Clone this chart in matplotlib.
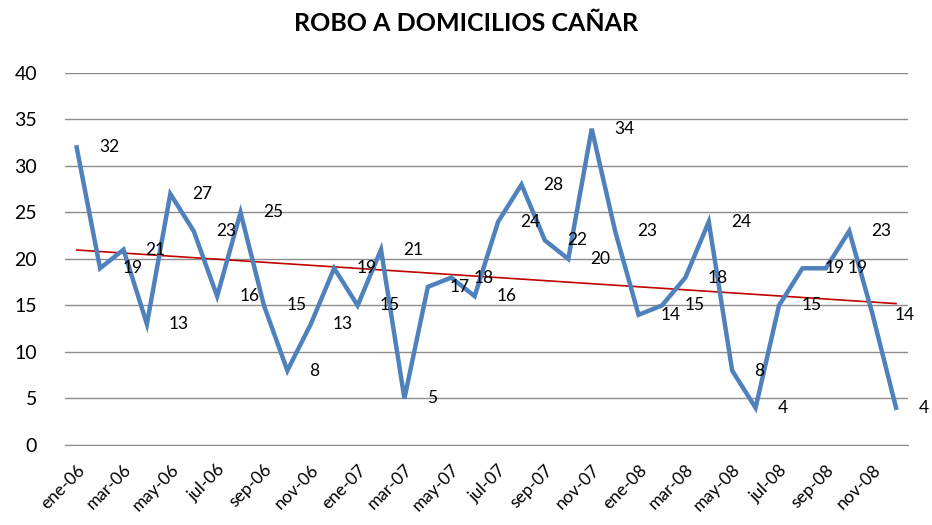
import matplotlib.pyplot as plt
import numpy as np

plt.rcParams['font.family'] = ['Lato', 'DejaVu Sans']

meses = ["ene", "feb", "mar", "abr", "may", "jun",
         "jul", "ago", "sep", "oct", "nov", "dic"]
anios = ["06", "07", "08"]
labels = [m + "-" + a for a in anios for m in meses]

robos = [32, 19, 21, 13, 27, 23, 16, 25, 15, 8, 13, 19,
         15, 21, 5, 17, 18, 16, 24, 28, 22, 20, 34, 23,
         14, 15, 18, 24, 8, 4, 15, 19, 19, 23, 14, 4]

x = np.arange(len(robos))

fig = plt.figure(figsize=(9.32, 5.25), dpi=100)
ax = fig.add_axes([0.0697, 0.1524, 0.9043, 0.7086])

# linea de tendencia lineal
coef = np.polyfit(x, robos, 1)
ax.plot(x, np.polyval(coef, x), color="#C00000", linewidth=1.2, zorder=3)

ax.plot(x, robos, color="#4F81BD", linewidth=3.2, zorder=4,
        solid_joinstyle="miter")

for xi, v in zip(x, robos):
    ax.annotate(str(v), (xi, v), xytext=(16, 0), textcoords="offset points",
                ha="left", va="center", fontsize=12.5, color="black", zorder=5)

ax.set_xlim(-0.5, len(robos) - 0.5)
ax.set_ylim(0, 40)
ax.set_yticks(range(0, 41, 5))
ax.set_xticks(x[::2])
ax.set_xticklabels(labels[::2], rotation=45, ha="right",
                   rotation_mode="anchor", fontsize=12.5)
ax.tick_params(axis="y", labelsize=14, length=0, pad=20)
ax.tick_params(axis="x", length=0, pad=12)

ax.grid(axis="y", color="#8C8C8C", linewidth=1)
ax.set_axisbelow(True)
for s in ["top", "right", "left"]:
    ax.spines[s].set_visible(False)
ax.spines["bottom"].set_color("#8C8C8C")

fig.suptitle("ROBO A DOMICILIOS CAÑAR", fontsize=18, fontweight="bold",
             y=0.978)

fig.savefig("out.png", dpi=100)
